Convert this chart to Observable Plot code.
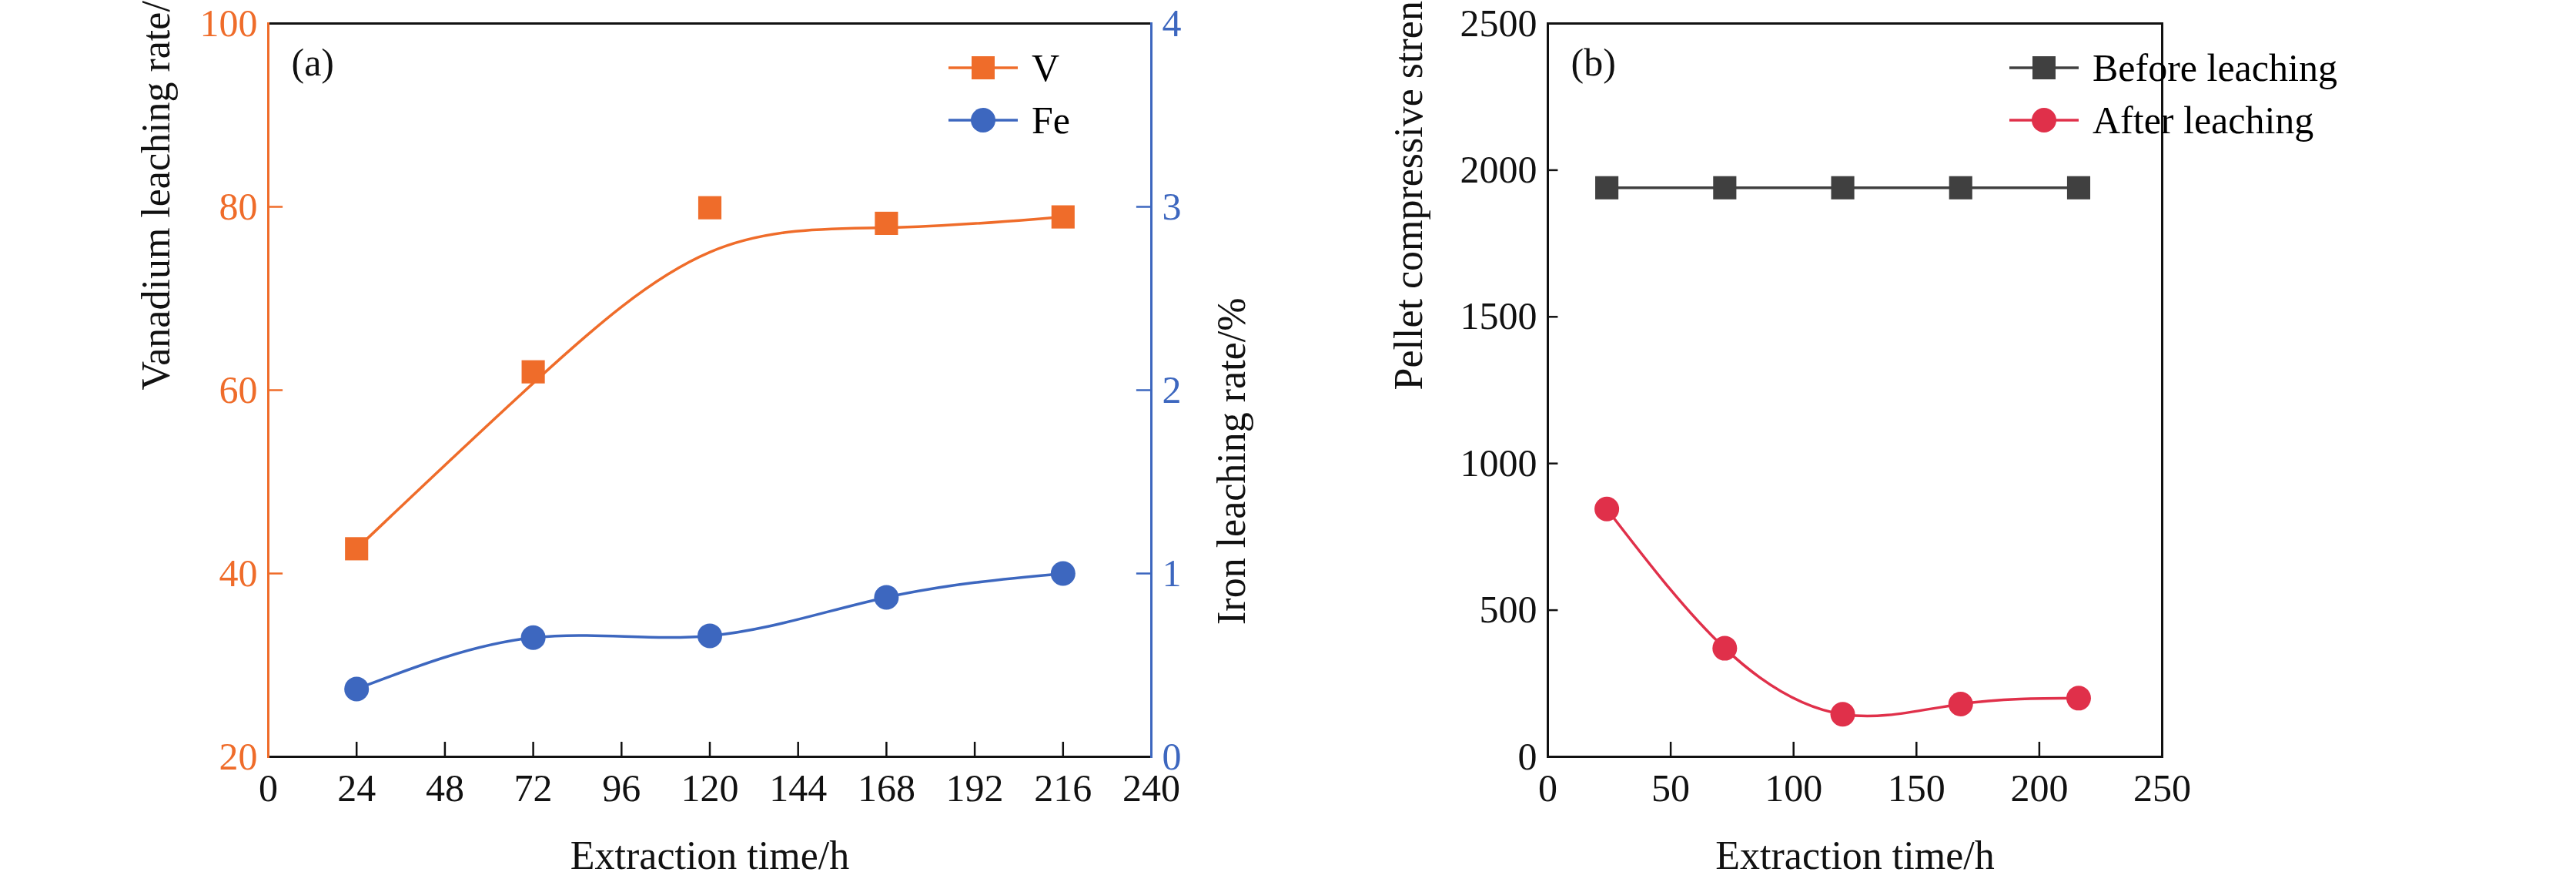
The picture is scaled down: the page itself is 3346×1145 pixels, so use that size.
<!DOCTYPE html>
<html><head><meta charset="utf-8">
<script src="https://cdn.jsdelivr.net/npm/d3@7"></script>
<script src="https://cdn.jsdelivr.net/npm/@observablehq/plot@0.6"></script>
<style>
body{margin:0;background:#fff;font-family:"Liberation Serif",serif}
#wrap{position:relative;width:3346px;height:1145px}
.p{position:absolute;top:0}
.p text{font-family:"Liberation Serif",serif}
.leg{position:absolute;font-size:50px;font-family:"Liberation Serif",serif;line-height:68px}
.leg div{display:flex;align-items:center;gap:18px}
</style></head><body>
<div id="wrap"></div>
<script>
const times = [24, 72, 120, 168, 216];
const vanadium = [42.7, 62.0, 79.9, 78.2, 78.9];
const iron = [0.37, 0.65, 0.66, 0.87, 1.0];
const before = [1940, 1940, 1940, 1940, 1940];
const after = [845, 370, 145, 180, 200];
const xTicksA = [0,24,48,72,96,120,144,168,192,216,240];
const yTicksV = [20,40,60,80,100];
const yTicksS = [0,500,1000,1500,2000,2500];
const xTicksB = [0,50,100,150,200,250];

const OR="#ef6c2a", BL="#3d67bf", DK="#404040", RD="#e0304a";
const fs=50, font="Liberation Serif";
const wrap=document.getElementById("wrap");

const dV = times.map((t,i)=>({t, v:vanadium[i]}));
const dF = times.map((t,i)=>({t, v:20+iron[i]*20}));
const dB = times.map((t,i)=>({t, v:before[i]}));
const dA = times.map((t,i)=>({t, v:after[i]}));
const fmt = d3.format("d");

const A = Plot.plot({
  width:1700, height:1145, marginLeft:348, marginRight:205, marginTop:30, marginBottom:163,
  style:{fontFamily:font, fontSize:fs+"px", color:"#111", background:"transparent"},
  x:{domain:[0,240]}, y:{domain:[20,100]},
  marks:[
    Plot.axisX({ticks:xTicksA, tickSize:0, tickPadding:22, label:null, fontFamily:font, fontSize:fs}),
    Plot.axisY({ticks:yTicksV, tickSize:0, tickPadding:14, label:null, color:OR, fontFamily:font, fontSize:fs}),
    Plot.axisY({anchor:"right", ticks:yTicksV, tickFormat:d=>String((d-20)/20), tickSize:0, tickPadding:14, label:null, color:BL, fontFamily:font, fontSize:fs}),
    Plot.ruleX(xTicksA,{x:d=>d, y1:20, y2:21.6, stroke:"#111", strokeWidth:2.5}),
    Plot.ruleY(yTicksV,{y:d=>d, x1:0, x2:4, stroke:OR, strokeWidth:2.5}),
    Plot.ruleY(yTicksV,{y:d=>d, x1:236, x2:240, stroke:BL, strokeWidth:2.5}),
    Plot.frame({anchor:"top", stroke:"#111", strokeWidth:3}),
    Plot.frame({anchor:"bottom", stroke:"#111", strokeWidth:3}),
    Plot.frame({anchor:"left", stroke:OR, strokeWidth:3}),
    Plot.frame({anchor:"right", stroke:BL, strokeWidth:3}),
    Plot.line(dV,{x:"t",y:"v",curve:"bundle",tension:0.9,stroke:OR,strokeWidth:3.5}),
    Plot.line(dF,{x:"t",y:"v",curve:"natural",stroke:BL,strokeWidth:3.5}),
    Plot.dot(dV,{x:"t",y:"v",symbol:"square",r:17,fill:OR}),
    Plot.dot(dF,{x:"t",y:"v",symbol:"circle",r:16,fill:BL}),
    Plot.text(["(a)"],{frameAnchor:"top-left",dx:30,dy:32,fontSize:50,fontFamily:font,fill:"#111"}),
    Plot.text(["Extraction time/h"],{frameAnchor:"bottom",dy:145,fontSize:52,fontFamily:font,fill:"#111"}),
    Plot.text(["Vanadium leaching rate/%"],{frameAnchor:"left",dx:-145,rotate:-90,fontSize:52,fontFamily:font,fill:"#111"}),
    Plot.text(["Iron leaching rate/%"],{frameAnchor:"right",dx:105,dy:-120,rotate:-90,fontSize:52,fontFamily:font,fill:"#111"})
  ]
});
A.classList.add("p"); A.style.left="0px"; wrap.appendChild(A);

const B = Plot.plot({
  width:1346, height:1145, marginLeft:344, marginRight:204, marginTop:30, marginBottom:163,
  style:{fontFamily:font, fontSize:fs+"px", color:"#111", background:"transparent"},
  x:{domain:[0,250]}, y:{domain:[0,2500]},
  marks:[
    Plot.axisX({ticks:xTicksB, tickSize:0, tickPadding:22, label:null, fontFamily:font, fontSize:fs}),
    Plot.axisY({ticks:yTicksS, tickFormat:fmt, tickSize:0, tickPadding:14, label:null, fontFamily:font, fontSize:fs}),
    Plot.ruleX(xTicksB,{x:d=>d, y1:0, y2:50, stroke:"#111", strokeWidth:2.5}),
    Plot.ruleY(yTicksS,{y:d=>d, x1:0, x2:4.2, stroke:"#111", strokeWidth:2.5}),
    Plot.frame({stroke:"#111", strokeWidth:3}),
    Plot.line(dB,{x:"t",y:"v",stroke:DK,strokeWidth:3.5}),
    Plot.line(dA,{x:"t",y:"v",curve:"natural",stroke:RD,strokeWidth:3.5}),
    Plot.dot(dB,{x:"t",y:"v",symbol:"square",r:17,fill:DK}),
    Plot.dot(dA,{x:"t",y:"v",symbol:"circle",r:16,fill:RD}),
    Plot.text(["(b)"],{frameAnchor:"top-left",dx:30,dy:32,fontSize:50,fontFamily:font,fill:"#111"}),
    Plot.text(["Extraction time/h"],{frameAnchor:"bottom",dy:145,fontSize:52,fontFamily:font,fill:"#111"}),
    Plot.text(["Pellet compressive strength/(N·Pellet⁻¹)"],{frameAnchor:"left",dx:-180,rotate:-90,fontSize:52,fontFamily:font,fill:"#111"})
  ]
});
B.classList.add("p"); B.style.left="1666px"; wrap.appendChild(B);

function legItem(color, sym, label){
  const s = sym==="sq" ? `<rect x="30" y="13" width="30" height="30" fill="${color}"/>` : `<circle cx="45" cy="28" r="16" fill="${color}"/>`;
  return `<div><svg width="90" height="56"><line x1="0" x2="90" y1="28" y2="28" stroke="${color}" stroke-width="3.5"/>${s}</svg><span>${label}</span></div>`;
}
const la=document.createElement("div"); la.className="leg"; la.style.left="1232px"; la.style.top="54px";
la.innerHTML=legItem(OR,"sq","V")+legItem(BL,"ci","Fe"); wrap.appendChild(la);
const lb=document.createElement("div"); lb.className="leg"; lb.style.left="2610px"; lb.style.top="54px";
lb.innerHTML=legItem(DK,"sq","Before leaching")+legItem(RD,"ci","After leaching"); wrap.appendChild(lb);
</script></body></html>
